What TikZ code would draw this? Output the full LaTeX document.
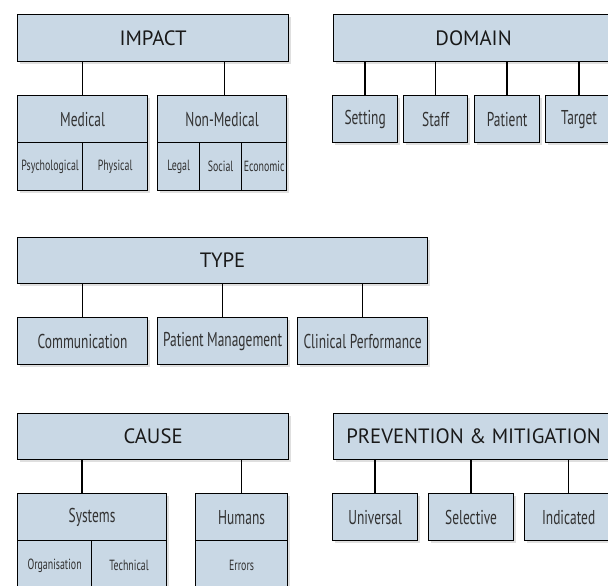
\documentclass[tikz,border=0pt]{standalone}
\usepackage{fontspec}
\setmainfont{PT Sans}
\newfontfamily\narrowfont[FakeStretch=0.67]{PT Sans}
\usetikzlibrary{shadows}
\definecolor{boxblue}{RGB}{201,216,229}
\definecolor{labelgray}{RGB}{50,50,50}
\tikzset{
  box/.style={draw, line width=0.7pt, fill=boxblue, inner sep=0pt, anchor=north west,
    drop shadow={shadow xshift=1.5pt, shadow yshift=-1.5pt, opacity=0.25}},
  head/.style={box, minimum height=0.94cm, text=black!90, font=\fontsize{11.8}{14}\selectfont},
  cat/.style={box, minimum height=0.94cm, text=labelgray, font=\narrowfont\fontsize{11.4}{13}\selectfont},
  leaf/.style={box, minimum height=0.96cm, text=labelgray, font=\narrowfont\fontsize{8.4}{10}\selectfont},
  link/.style={line width=0.8pt}
}
\begin{document}
\begin{tikzpicture}[x=0.02cm, y=-0.02cm]
    \path[use as bounding box, clip] (0,0) rectangle (608,585);
    \fill[white] (0,0) rectangle (608,585);

    \node[head, minimum width=5.42cm] (impact) at (17,14) {IMPACT};
    \node[cat, minimum width=2.6cm] (medical) at (17,95) {Medical};
    \node[cat, minimum width=2.58cm] (nonmed) at (157,95) {Non-Medical};
    \node[leaf, minimum width=1.3cm] (psych) at (17,142) {Psychological};
    \node[leaf, minimum width=1.3cm] (phys) at (82,142) {Physical};
    \node[leaf, minimum width=0.84cm] (legal) at (157,142) {Legal};
    \node[leaf, minimum width=0.84cm] (social) at (199,142) {Social};
    \node[leaf, minimum width=0.9cm] (econ) at (241,142) {Economic};
    \draw[link] (medical.north) -- (medical.north |- impact.south);
    \draw[link] ([xshift=0.05cm]nonmed.north) -- ([xshift=0.05cm]nonmed.north |- impact.south);

    \node[head, minimum width=5.6cm] (domain) at (333,14) {DOMAIN};
    \node[cat, minimum width=1.3cm] (setting) at (332,95) {Setting};
    \node[cat, minimum width=1.28cm] (staff) at (403,95) {Staff};
    \node[cat, minimum width=1.3cm] (patient) at (474,95) {Patient};
    \node[cat, minimum width=1.34cm] (target) at (545,95) {Target};
    \foreach \n in {setting, staff, patient, target}
        \draw[link] (\n.north) -- (\n.north |- domain.south);

    \node[head, minimum width=8.2cm, minimum height=0.92cm] (type) at (17,237) {TYPE};
    \node[cat, minimum width=2.6cm] (comm) at (17,317) {Communication};
    \node[cat, minimum width=2.6cm] (patman) at (157,317) {Patient Management};
    \node[cat, minimum width=2.6cm] (clinperf) at (297,317) {Clinical Performance};
    \foreach \n in {comm, patman, clinperf}
        \draw[link] (\n.north) -- (\n.north |- type.south);

    \node[head, minimum width=5.42cm, minimum height=0.92cm] (cause) at (17,413) {CAUSE};
    \node[cat, minimum width=2.98cm] (systems) at (17,493) {Systems};
    \node[cat, minimum width=1.84cm] (humans) at (195,493) {Humans};
    \node[leaf, minimum width=1.48cm, minimum height=1cm] (organisation) at (17,540) {Organisation};
    \node[leaf, minimum width=1.5cm, minimum height=1cm] (technical) at (91,540) {Technical};
    \node[leaf, minimum width=1.84cm, minimum height=1cm] (errors) at (195,540) {Errors};
    \draw[link] ([xshift=1.3cm]systems.north west) -- ([xshift=1.3cm]systems.north west |- cause.south);
    \draw[link] (humans.north) -- (humans.north |- cause.south);

    \node[head, minimum width=5.6cm, minimum height=0.92cm] (prevent) at (333,413) {PREVENTION \& MITIGATION};
    \node[cat, minimum width=1.7cm] (universal) at (332,493) {Universal};
    \node[cat, minimum width=1.7cm] (selective) at (428,493) {Selective};
    \node[cat, minimum width=1.76cm] (indicated) at (524,493) {Indicated};
    \foreach \n in {universal, selective, indicated}
        \draw[link] (\n.north) -- (\n.north |- prevent.south);
\end{tikzpicture}
\end{document}
